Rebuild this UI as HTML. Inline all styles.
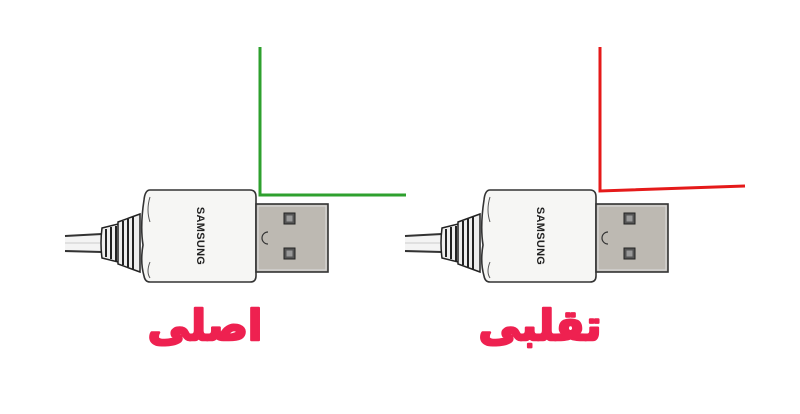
<!DOCTYPE html>
<html><head><meta charset="utf-8"><style>
html,body{margin:0;padding:0;background:#fff;}
svg{display:block}
</style></head><body>
<svg width="800" height="414" viewBox="0 0 800 414" xmlns="http://www.w3.org/2000/svg">
<defs>
<g id="plug">
  <path d="M65 235 L102 233 L102 253 L65 253 Z" fill="#f4f4f4"/>
  <path d="M65 236 L102 234 M65 251 L102 252" stroke="#333" stroke-width="2" fill="none"/>
  <path d="M65 243 L100 243" stroke="#ccc" stroke-width="1" fill="none"/>
  <path d="M102 228 Q100 243 102 258 L118 262 Q122 243 118 224 Z" fill="#eee" stroke="#222" stroke-width="1.5"/>
  <path d="M118 222 L140 214 L140 272 L118 264 Z" fill="#eee" stroke="#222" stroke-width="1.5"/>
  <g stroke="#222" stroke-width="2">
    <line x1="106" y1="229" x2="106" y2="257"/>
    <line x1="111" y1="227" x2="111" y2="259"/>
    <line x1="116" y1="226" x2="116" y2="261"/>
    <line x1="123" y1="221" x2="123" y2="265"/>
    <line x1="128" y1="219" x2="128" y2="267"/>
    <line x1="133" y1="217" x2="133" y2="269"/>
  </g>
  <path d="M150 190 L250 190 Q256 190 256 197 L256 276 Q256 282 250 282 L150 282 Q145 282 144 276 Q140 262 143 245 Q140 226 144 200 Q145 190 150 190 Z" fill="#f6f6f4" stroke="#333" stroke-width="1.6"/>
  <path d="M150 197 Q146 210 150 222 M150 262 Q146 272 150 278" stroke="#555" stroke-width="1" fill="none"/>
  <text x="0" y="0" transform="translate(197,236) rotate(90)" text-anchor="middle" font-family="Liberation Sans, sans-serif" font-weight="bold" font-size="11" fill="#222" letter-spacing="0.3">SAMSUNG</text>
  <rect x="256" y="204" width="72" height="68" fill="#bdb9b2" stroke="#333" stroke-width="1.6"/>
  <rect x="258" y="206" width="68" height="64" fill="none" stroke="#ddd" stroke-width="1"/>
  <rect x="284" y="213" width="11" height="11" fill="#555" stroke="#222" stroke-width="1"/>
  <rect x="286.5" y="215.5" width="6" height="6" fill="#999"/>
  <rect x="284" y="248" width="11" height="11" fill="#555" stroke="#222" stroke-width="1"/>
  <rect x="286.5" y="250.5" width="6" height="6" fill="#999"/>
  <path d="M268 232 A5 5 0 1 0 268 244" stroke="#333" stroke-width="1.2" fill="none"/>
</g>
</defs>
<path d="M260 47 L260 195 L406 195" stroke="#2ea02e" stroke-width="3" fill="none"/>
<path d="M600 47 L600 191 L745 186" stroke="#e51a1a" stroke-width="3" fill="none"/>
<use href="#plug"/>
<use href="#plug" transform="translate(340,0)"/>
<text x="205" y="340" text-anchor="middle" font-family="'DejaVu Sans','Liberation Sans',sans-serif" font-weight="bold" font-size="42" fill="#ee2150" stroke="#ee2150" stroke-width="2.5" stroke-linejoin="round">اصلی</text>
<text x="540" y="340" text-anchor="middle" font-family="'DejaVu Sans','Liberation Sans',sans-serif" font-weight="bold" font-size="42" fill="#ee2150" stroke="#ee2150" stroke-width="2.5" stroke-linejoin="round">تقلبی</text>
</svg>
</body></html>
